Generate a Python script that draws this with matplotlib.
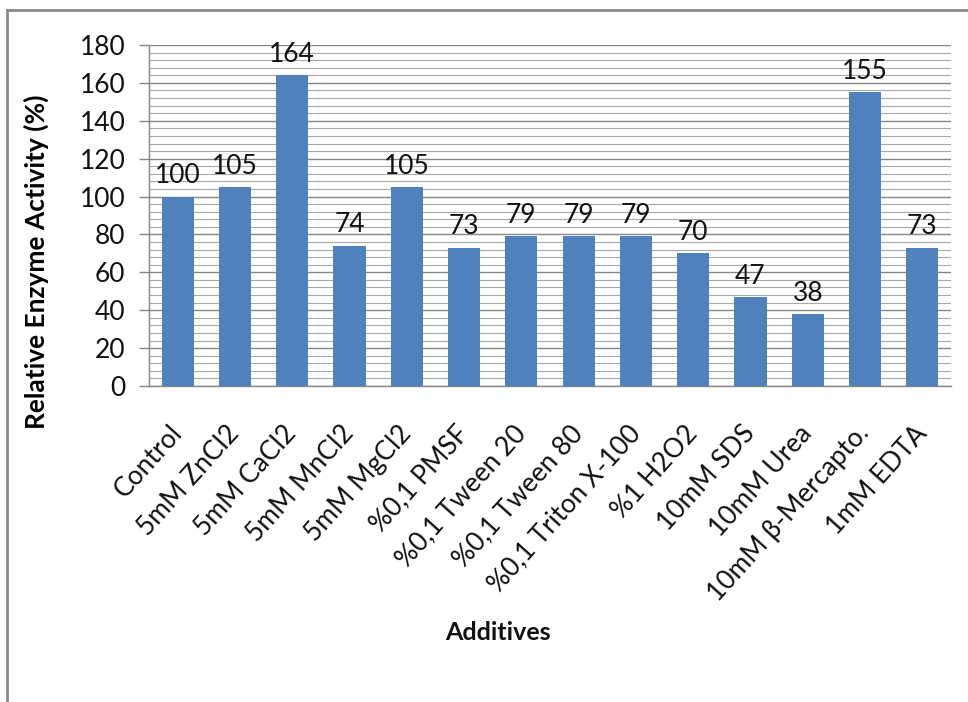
import matplotlib
matplotlib.use("Agg")
import matplotlib.pyplot as plt
from matplotlib.lines import Line2D
import numpy as np

categories = [
    "Control", "5mM ZnCl2", "5mM CaCl2", "5mM MnCl2", "5mM MgCl2",
    "%0,1 PMSF", "%0,1 Tween 20", "%0,1 Tween 80", "%0,1 Triton X-100",
    "%1 H2O2", "10mM SDS", "10mM Urea", "10mM \u03b2-Mercapto.", "1mM EDTA",
]
activity = [100, 105, 164, 74, 105, 73, 79, 79, 79, 70, 47, 38, 155, 73]
y_ticks = [0, 20, 40, 60, 80, 100, 120, 140, 160, 180]

plt.rcParams["font.family"] = ["Lato", "DejaVu Sans"]

W, H = 968, 702
fig = plt.figure(figsize=(W / 100, H / 100), dpi=100)
fig.patch.set_facecolor("white")

# plot area in pixel coordinates
left, right, top, bottom = 149, 951, 45, 386
ax = fig.add_axes([left / W, 1 - bottom / H, (right - left) / W, (bottom - top) / H])

x = np.arange(len(categories))
bar_color = "#4F81BD"
ax.bar(x, activity, width=0.56, color=bar_color, zorder=3)

for xi, v in zip(x, activity):
    ax.annotate(f"{v}", (xi, v), xytext=(0, 6), textcoords="offset points",
                ha="center", va="bottom", fontsize=19, color="#111111", zorder=4)

ax.set_xlim(-0.5, len(categories) - 0.5)
ax.set_ylim(0, 180)
ax.set_yticks(y_ticks)
ax.set_yticks(np.arange(0, 181, 4), minor=True)
ax.tick_params(axis="y", which="major", labelsize=19, length=7, width=1,
               color="#868686", pad=10, labelcolor="#111111")
ax.tick_params(axis="y", which="minor", length=0)

ax.grid(axis="y", which="major", color="#868686", linewidth=1.0, zorder=0)
ax.grid(axis="y", which="minor", color="#a8a8a8", linewidth=0.8, zorder=0)

ax.set_xticks(x)
ax.set_xticklabels(categories, rotation=48, ha="right", va="center",
                   rotation_mode="anchor", fontsize=19, color="#111111")
ax.tick_params(axis="x", length=0, pad=31)

for s in ["top", "right"]:
    ax.spines[s].set_visible(False)
for s in ["left", "bottom"]:
    ax.spines[s].set_color("#868686")
    ax.spines[s].set_linewidth(1.0)

ax.set_ylabel("Relative Enzyme Activity (%)", fontsize=19, fontweight="bold")
ax.yaxis.label.set_va("center")
ax.yaxis.set_label_coords((36 - left) / (right - left), (386 - 262) / (bottom - top))
fig.text(498 / W, 1 - 633 / H, "Additives", ha="center", va="center",
         fontsize=18, fontweight="bold", color="#111111")

# outer frame (top and left edges)
frame_color = "#8a8a8a"
fig.add_artist(Line2D([7 / W, 1.0], [1 - 10 / H, 1 - 10 / H],
                      transform=fig.transFigure, color=frame_color, linewidth=2))
fig.add_artist(Line2D([7 / W, 7 / W], [0.0, 1 - 10 / H],
                      transform=fig.transFigure, color=frame_color, linewidth=2))

fig.savefig("out.png", dpi=100, facecolor="white")
